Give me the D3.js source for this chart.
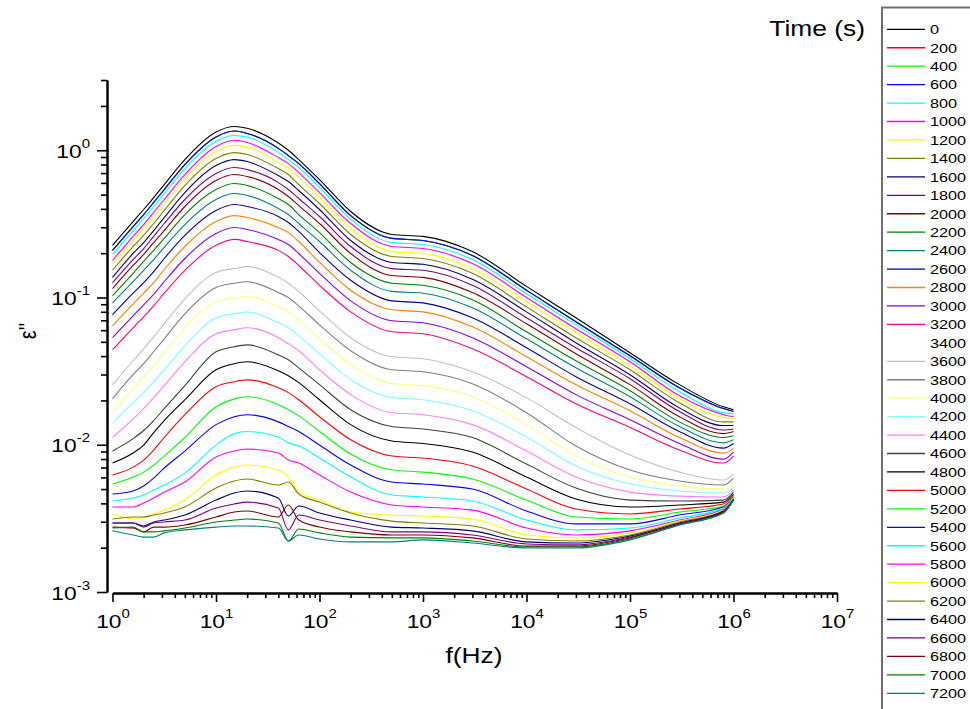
<!DOCTYPE html>
<html><head><meta charset="utf-8">
<script src="https://cdn.jsdelivr.net/npm/d3@7"></script>
<style>
body{margin:0;background:#fff}
svg{display:block}
text{font-family:"Liberation Sans",Arial,sans-serif;fill:#000}
</style>
</head><body>
<svg id="chart" width="970" height="709"></svg>
<script>
// ---- data ----
const freqs = [1,1.58,2,2.5,3.16,5,10,15,20,40,50,63,100,200,500,1e3,3e3,1e4,3e4,1e5,3e5,8e5,1e6];
const times = [0,200,400,600,800,1000,1200,1400,1600,1800,2000,2200,2400,2600,2800,3000,3200,3400,3600,3800,4000,4200,4400,4600,4800,5000,5200,5400,5600,5800,6000,6200,6400,6600,6800,7000,7200];
const colors = ["#000000","#FF0000","#00FF00","#0000FF","#00FFFF","#FF00FF","#FFFF00","#808000","#000080","#800080","#800000","#008000","#008080","#0000A0","#FF8000","#8000FF","#FF0080","#FFFFFF","#C0C0C0","#808080","#FFFF80","#80FFFF","#FF80FF","#404040","#000000","#FF0000","#00FF00","#0000FF","#00FFFF","#FF00FF","#FFFF00","#808000","#000080","#800080","#800000","#008000","#008080"];
const xTickValues = [1,10,100,1e3,1e4,1e5,1e6,1e7];
const yTickValues = [1e-3,1e-2,1e-1,1];

const eps0    = [0.226,0.328,0.396,0.477,0.585,0.864,1.33,1.45,1.41,1.12,1.00,0.864,0.632,0.384,0.268,0.260,0.205,0.119,0.0728,0.0421,0.0256,0.0181,0.0173];
const eps200  = [0.209,0.303,0.366,0.442,0.541,0.799,1.23,1.35,1.30,1.03,0.920,0.812,0.594,0.360,0.252,0.244,0.193,0.112,0.0684,0.0402,0.0244,0.0176,0.0168];
const eps400  = [0.209,0.303,0.366,0.442,0.541,0.799,1.23,1.35,1.30,1.03,0.920,0.812,0.594,0.360,0.252,0.244,0.193,0.112,0.0684,0.0402,0.0244,0.0176,0.0168];
const eps600  = [0.209,0.303,0.366,0.442,0.541,0.799,1.23,1.35,1.30,1.03,0.920,0.812,0.594,0.360,0.252,0.244,0.193,0.112,0.0684,0.0402,0.0244,0.0176,0.0168];
const eps800  = [0.196,0.285,0.344,0.415,0.508,0.751,1.15,1.26,1.23,0.964,0.864,0.763,0.558,0.339,0.236,0.229,0.181,0.106,0.0652,0.0384,0.0229,0.0165,0.0162];
const eps1000 = [0.178,0.260,0.313,0.378,0.463,0.684,1.06,1.17,1.13,0.892,0.812,0.705,0.516,0.318,0.222,0.215,0.170,0.100,0.0613,0.0366,0.0215,0.0160,0.0155];
const eps1200 = [0.168,0.244,0.294,0.355,0.435,0.642,0.980,1.08,1.05,0.825,0.751,0.652,0.477,0.294,0.205,0.199,0.157,0.0935,0.0576,0.0344,0.0205,0.0153,0.0150];
const eps1400 = [0.153,0.222,0.264,0.318,0.390,0.576,0.878,0.964,0.935,0.751,0.684,0.585,0.435,0.268,0.190,0.184,0.146,0.0864,0.0533,0.0323,0.0193,0.0143,0.0143];
const eps1600 = [0.137,0.199,0.236,0.285,0.349,0.516,0.787,0.864,0.838,0.673,0.613,0.533,0.396,0.244,0.173,0.168,0.133,0.0799,0.0493,0.0299,0.0178,0.0135,0.0135];
const eps1800 = [0.126,0.181,0.215,0.260,0.318,0.463,0.695,0.763,0.739,0.603,0.541,0.470,0.355,0.222,0.157,0.153,0.121,0.0728,0.0456,0.0281,0.0168,0.0126,0.0128];
const eps2000 = [0.115,0.165,0.196,0.236,0.285,0.415,0.623,0.684,0.663,0.541,0.485,0.421,0.318,0.199,0.141,0.137,0.108,0.0663,0.0415,0.0256,0.0155,0.0119,0.0123];
const eps2200 = [0.103,0.146,0.176,0.209,0.252,0.366,0.541,0.594,0.576,0.470,0.428,0.366,0.276,0.173,0.125,0.121,0.0964,0.0585,0.0372,0.0233,0.0143,0.0112,0.0115];
const eps2400 = [0.0920,0.128,0.153,0.181,0.219,0.313,0.463,0.508,0.493,0.402,0.366,0.318,0.240,0.153,0.110,0.107,0.0851,0.0524,0.0333,0.0212,0.0133,0.0103,0.0108];
const eps2600 = [0.0763,0.107,0.126,0.150,0.184,0.264,0.390,0.428,0.415,0.355,0.323,0.281,0.202,0.131,0.0949,0.0920,0.0728,0.0456,0.0290,0.0190,0.0123,0.00949,0.0102];
const eps2800 = [0.0642,0.0906,0.107,0.126,0.155,0.222,0.328,0.360,0.349,0.299,0.276,0.240,0.173,0.112,0.0825,0.0799,0.0632,0.0396,0.0256,0.0170,0.0112,0.00878,0.00949];
const eps3000 = [0.0533,0.0751,0.0892,0.105,0.128,0.184,0.272,0.299,0.290,0.248,0.229,0.199,0.146,0.0949,0.0695,0.0673,0.0533,0.0339,0.0219,0.0148,0.0102,0.00799,0.00892];
const eps3200 = [0.0442,0.0623,0.0739,0.0878,0.107,0.153,0.226,0.248,0.240,0.209,0.190,0.165,0.121,0.0799,0.0585,0.0567,0.0448,0.0290,0.0190,0.0131,0.00920,0.00751,0.00838];
const eps3400 = [0.0339,0.0485,0.0576,0.0695,0.0838,0.121,0.181,0.193,0.196,0.168,0.153,0.135,0.0995,0.0652,0.0477,0.0456,0.0372,0.0252,0.0157,0.0102,0.00763,0.00652,0.00728];
const eps3600 = [0.0256,0.0372,0.0448,0.0541,0.0663,0.0980,0.148,0.157,0.162,0.137,0.125,0.110,0.0812,0.0533,0.0396,0.0384,0.0313,0.0209,0.0131,0.00851,0.00652,0.00576,0.00632];
const eps3800 = [0.0205,0.0299,0.0355,0.0428,0.0524,0.0775,0.117,0.125,0.128,0.108,0.100,0.0878,0.0652,0.0435,0.0323,0.0313,0.0260,0.0165,0.00980,0.00673,0.00567,0.00533,0.00594];
const eps4000 = [0.0168,0.0240,0.0290,0.0344,0.0421,0.0623,0.0935,0.0995,0.102,0.0864,0.0799,0.0705,0.0524,0.0349,0.0260,0.0252,0.0212,0.0137,0.00838,0.00603,0.00524,0.00500,0.00549];
const eps4200 = [0.0141,0.0193,0.0226,0.0268,0.0323,0.0470,0.0728,0.0775,0.0799,0.0673,0.0623,0.0549,0.0415,0.0276,0.0209,0.0202,0.0170,0.0113,0.00717,0.00541,0.00485,0.00470,0.00516];
const eps4400 = [0.0112,0.0150,0.0176,0.0209,0.0252,0.0366,0.0567,0.0603,0.0623,0.0533,0.0485,0.0435,0.0323,0.0219,0.0165,0.0160,0.0137,0.00906,0.00603,0.00477,0.00448,0.00442,0.00493];
const eps4600 = [0.00906,0.0110,0.0125,0.0146,0.0176,0.0252,0.0428,0.0463,0.0477,0.0408,0.0378,0.0333,0.0256,0.0173,0.0133,0.0128,0.0112,0.00739,0.00508,0.00421,0.00415,0.00421,0.00477];
const eps4800 = [0.00751,0.00878,0.00995,0.0121,0.0146,0.0202,0.0323,0.0355,0.0366,0.0318,0.0294,0.0264,0.0202,0.0137,0.0106,0.0102,0.00892,0.00603,0.00428,0.00378,0.00390,0.00408,0.00463];
const eps5000 = [0.00623,0.00705,0.00787,0.00920,0.0112,0.0160,0.0248,0.0268,0.0276,0.0244,0.0226,0.0202,0.0155,0.0108,0.00838,0.00812,0.00717,0.00500,0.00366,0.00339,0.00366,0.00396,0.00456];
const eps5200 = [0.00541,0.00603,0.00652,0.00728,0.00838,0.0112,0.0181,0.0205,0.0212,0.0187,0.0173,0.0157,0.0123,0.00864,0.00673,0.00652,0.00585,0.00421,0.00323,0.00313,0.00349,0.00384,0.00448];
const eps5400 = [0.00463,0.00485,0.00524,0.00594,0.00695,0.00906,0.0137,0.0155,0.0160,0.0143,0.0133,0.0123,0.00995,0.00728,0.00558,0.00541,0.00500,0.00355,0.00290,0.00290,0.00333,0.00378,0.00442];
const eps5600 = [0.00415,0.00435,0.00456,0.00493,0.00533,0.00642,0.00995,0.0119,0.0123,0.0113,0.0103,0.00980,0.00812,0.00603,0.00456,0.00442,0.00415,0.00308,0.00264,0.00272,0.00318,0.00372,0.00442];
const eps5800 = [0.00378,0.00378,0.00402,0.00435,0.00477,0.00558,0.00825,0.00906,0.00935,0.00878,0.00787,0.00751,0.00623,0.00477,0.00390,0.00378,0.00360,0.00272,0.00244,0.00260,0.00308,0.00366,0.00435];
const eps6000 = [0.00339,0.00313,0.00323,0.00339,0.00360,0.00421,0.00623,0.00705,0.00728,0.00673,0.00603,0.00477,0.00421,0.00349,0.00333,0.00328,0.00313,0.00244,0.00233,0.00252,0.00303,0.00360,0.00435];
const eps6200 = [0.00313,0.00323,0.00323,0.00333,0.00344,0.00378,0.00508,0.00567,0.00585,0.00533,0.00558,0.00463,0.00408,0.00344,0.00303,0.00294,0.00281,0.00229,0.00222,0.00244,0.00299,0.00355,0.00428];
const eps6400 = [0.00294,0.00294,0.00281,0.00299,0.00308,0.00333,0.00421,0.00470,0.00485,0.00435,0.00328,0.00384,0.00344,0.00308,0.00276,0.00272,0.00260,0.00219,0.00215,0.00240,0.00294,0.00355,0.00428];
const eps6600 = [0.00294,0.00294,0.00276,0.00294,0.00299,0.00308,0.00372,0.00396,0.00408,0.00372,0.00264,0.00333,0.00308,0.00281,0.00256,0.00256,0.00244,0.00212,0.00209,0.00236,0.00290,0.00349,0.00421];
const eps6800 = [0.00276,0.00272,0.00256,0.00276,0.00276,0.00285,0.00323,0.00349,0.00355,0.00323,0.00390,0.00308,0.00276,0.00256,0.00244,0.00244,0.00233,0.00205,0.00205,0.00233,0.00290,0.00349,0.00421];
const eps7000 = [0.00272,0.00276,0.00256,0.00256,0.00260,0.00272,0.00299,0.00308,0.00313,0.00294,0.00222,0.00268,0.00252,0.00236,0.00233,0.00233,0.00222,0.00202,0.00202,0.00229,0.00285,0.00344,0.00421];
const eps7200 = [0.00260,0.00244,0.00236,0.00236,0.00252,0.00264,0.00276,0.00281,0.00281,0.00272,0.00222,0.00244,0.00229,0.00219,0.00219,0.00226,0.00215,0.00199,0.00199,0.00226,0.00285,0.00344,0.00421];

const seriesValues = [eps0,eps200,eps400,eps600,eps800,eps1000,eps1200,eps1400,eps1600,eps1800,eps2000,eps2200,eps2400,eps2600,eps2800,eps3000,eps3200,eps3400,eps3600,eps3800,eps4000,eps4200,eps4400,eps4600,eps4800,eps5000,eps5200,eps5400,eps5600,eps5800,eps6000,eps6200,eps6400,eps6600,eps6800,eps7000,eps7200];

// ---- drawing ----
const svg = d3.select("#chart");
const FS = 1.2; // horizontal stretch of the reference's text
const x = d3.scaleLog().domain([1, 1e7]).range([112.5, 837]);
const y = d3.scaleLog().domain([1e-3, 3]).range([592, 80]);
const yAxisX = 107, xAxisY = 593;

// curves
const line = d3.line()
  .x(d => x(d[0]))
  .y(d => y(d[1]))
  .curve(d3.curveMonotoneX);
const gCurves = svg.append("g");
seriesValues.forEach((vals, i) => {
  gCurves.append("path")
    .datum(freqs.map((f, j) => [f, vals[j]]))
    .attr("d", line)
    .attr("fill", "none")
    .attr("stroke", colors[i])
    .attr("stroke-width", 1.1);
});

// minor tick values
function minorTicks(lo, hi) {
  const out = [];
  for (let e = Math.floor(Math.log10(lo)); e < Math.ceil(Math.log10(hi)); e++) {
    for (let m = 2; m <= 9; m++) {
      const v = m * Math.pow(10, e);
      if (v >= lo * 0.999 && v <= hi * 1.001) out.push(v);
    }
  }
  return out;
}

// X axis
const gx = svg.append("g").attr("transform", `translate(0,${xAxisY})`);
gx.call(d3.axisBottom(x).tickValues(minorTicks(1, 1e7)).tickSize(5).tickSizeOuter(0).tickFormat(""));
const gxMaj = svg.append("g").attr("transform", `translate(0,${xAxisY})`);
gxMaj.call(d3.axisBottom(x).tickValues(xTickValues).tickSize(9).tickSizeOuter(0).tickFormat(""));
[gx, gxMaj].forEach(g => {
  g.selectAll("path.domain").attr("stroke", "#000").attr("stroke-width", 2);
  g.selectAll(".tick line").attr("stroke", "#000").attr("stroke-width", 1.6);
});
gxMaj.selectAll(".tick").each(function(d) {
  const t = d3.select(this).append("text")
    .attr("transform", `translate(0,35) scale(${FS},1)`)
    .attr("text-anchor", "middle")
    .style("font-size", "19px");
  t.append("tspan").text("10");
  t.append("tspan").attr("dy", -10).style("font-size", "12.5px").text(Math.round(Math.log10(d)));
});

// Y axis
const gy = svg.append("g").attr("transform", `translate(${yAxisX},0)`);
gy.call(d3.axisLeft(y).tickValues(minorTicks(1e-3, 3)).tickSize(6).tickSizeOuter(0).tickFormat(""));
const gyMaj = svg.append("g").attr("transform", `translate(${yAxisX},0)`);
gyMaj.call(d3.axisLeft(y).tickValues(yTickValues).tickSize(10).tickSizeOuter(0).tickFormat(""));
[gy, gyMaj].forEach(g => {
  g.selectAll("path.domain").attr("stroke", "#000").attr("stroke-width", 2);
  g.selectAll(".tick line").attr("stroke", "#000").attr("stroke-width", 1.6);
});
gyMaj.selectAll(".tick").each(function(d) {
  const t = d3.select(this).append("text")
    .attr("transform", `translate(-17,7) scale(${FS},1)`)
    .attr("text-anchor", "end")
    .style("font-size", "19px");
  t.append("tspan").text("10");
  t.append("tspan").attr("dy", -10).style("font-size", "12.5px").text(Math.round(Math.log10(d)));
});

// Axis titles
svg.append("text")
  .attr("transform", `translate(474,663) scale(${FS},1)`)
  .attr("text-anchor", "middle")
  .style("font-size", "22px")
  .text("f(Hz)");
svg.append("text")
  .attr("transform", `translate(36,331) rotate(-90) scale(1,${FS})`)
  .attr("text-anchor", "middle")
  .style("font-size", "20px")
  .text("ε''");

// Legend
svg.append("text")
  .attr("transform", `translate(865,36) scale(${FS},1)`)
  .attr("text-anchor", "end")
  .style("font-size", "22px")
  .text("Time (s)");
svg.append("rect")
  .attr("x", 882).attr("y", 7.5)
  .attr("width", 200).attr("height", 800)
  .attr("fill", "none").attr("stroke", "#707070").attr("stroke-width", 2);
const legY = d3.scaleLinear().domain([0, times.length - 1]).range([29.3, 693.3]);
times.forEach((t, i) => {
  const ly = legY(i);
  svg.append("line")
    .attr("x1", 887).attr("x2", 925).attr("y1", ly).attr("y2", ly)
    .attr("stroke", colors[i]).attr("stroke-width", 1.3);
  svg.append("text")
    .attr("transform", `translate(930,${ly + 4.8}) scale(1.25,1)`)
    .style("font-size", "13px")
    .text(t);
});
</script>
</body></html>
